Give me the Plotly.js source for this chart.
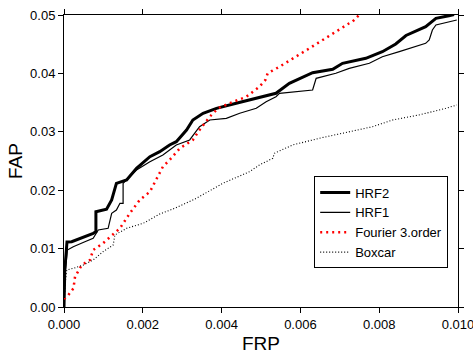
<!DOCTYPE html>
<html>
<head>
<meta charset="utf-8">
<script src="https://cdn.plot.ly/plotly-3.0.1.min.js"></script>
<style>html,body{margin:0;padding:0;background:#fff;}#chart{width:473px;height:354px;}</style>
</head>
<body>
<div id="chart"></div>
<script>
// HRF2 (thick solid)
const hrf2X = [0, 0.00002, 0.000076, 0.000195, 0.000742, 0.00081, 0.00081, 0.00108, 0.00121, 0.00133, 0.00159, 0.00184, 0.00218, 0.00243, 0.00268, 0.00285, 0.00311, 0.00327, 0.00353, 0.00387, 0.00437, 0.00471, 0.00538, 0.00572, 0.00606, 0.00631, 0.00682, 0.00707, 0.00766, 0.00808, 0.00842, 0.00868, 0.00918, 0.00944, 0.00977, 0.00990];
const hrf2Y = [0, 0.00634, 0.01113, 0.01118, 0.01262, 0.01289, 0.01632, 0.01673, 0.01832, 0.02118, 0.02175, 0.02375, 0.02574, 0.02659, 0.02774, 0.02831, 0.03031, 0.03202, 0.03317, 0.03402, 0.03488, 0.03545, 0.03659, 0.03830, 0.03943, 0.04012, 0.04070, 0.04173, 0.04258, 0.04372, 0.04503, 0.04649, 0.04800, 0.04943, 0.04988, 0.05008];
// HRF1 (thin solid)
const hrf1X = [0, 0.000025, 0.000084, 0.000235, 0.00053, 0.00074, 0.00087, 0.00112, 0.00121, 0.00133, 0.00142, 0.00150, 0.00150, 0.00184, 0.00218, 0.00251, 0.00285, 0.00319, 0.00344, 0.00370, 0.00412, 0.00446, 0.00488, 0.00513, 0.00538, 0.00547, 0.00631, 0.00640, 0.00690, 0.00724, 0.00775, 0.00808, 0.00851, 0.00918, 0.00927, 0.00935, 0.00944, 0.00977, 0.00997];
const hrf1Y = [0, 0.00548, 0.00976, 0.01033, 0.01118, 0.01176, 0.01318, 0.01348, 0.01604, 0.01661, 0.01776, 0.01776, 0.02118, 0.02346, 0.02488, 0.02603, 0.02774, 0.02860, 0.03087, 0.03202, 0.03231, 0.03317, 0.03402, 0.03515, 0.03601, 0.03659, 0.03716, 0.03916, 0.04002, 0.04087, 0.04173, 0.04286, 0.04372, 0.04515, 0.04572, 0.04743, 0.04829, 0.04875, 0.04914];
// Fourier 3.order (red dotted)
const fourX = [0, 0.00011, 0.00024, 0.00028, 0.00045, 0.00066, 0.00074, 0.00099, 0.00142, 0.00167, 0.00192, 0.00218, 0.00251, 0.00268, 0.00294, 0.00327, 0.00344, 0.00370, 0.00391, 0.00420, 0.00463, 0.00496, 0.00511, 0.00517, 0.00547, 0.00580, 0.00623, 0.00724, 0.00732, 0.00749];
const fourY = [0.00137, 0.00205, 0.00320, 0.00519, 0.00719, 0.00805, 0.00976, 0.01091, 0.01348, 0.01604, 0.01832, 0.01974, 0.02402, 0.02517, 0.02717, 0.02860, 0.03031, 0.03259, 0.03402, 0.03488, 0.03601, 0.03772, 0.03887, 0.04002, 0.04115, 0.04258, 0.04430, 0.04858, 0.04885, 0.05000];
// Boxcar (black dotted)
const boxX = [0, 0.000025, 0.00007, 0.00024, 0.00049, 0.00074, 0.00099, 0.00125, 0.00129, 0.00159, 0.00201, 0.00243, 0.00281, 0.00336, 0.00403, 0.00471, 0.00496, 0.00530, 0.00534, 0.00580, 0.00648, 0.00707, 0.00783, 0.00834, 0.00901, 0.00969, 0.00997];
const boxY = [0, 0.00377, 0.00634, 0.00663, 0.00719, 0.00805, 0.00947, 0.01062, 0.01233, 0.01348, 0.01433, 0.01592, 0.01690, 0.01861, 0.02118, 0.02317, 0.02432, 0.02546, 0.02632, 0.02774, 0.02889, 0.02974, 0.03087, 0.03202, 0.03288, 0.03402, 0.03459];

const xTicks = [0, 0.002, 0.004, 0.006, 0.008, 0.010];
const xTickText = ["0.000", "0.002", "0.004", "0.006", "0.008", "0.010"];
const yTicks = [0, 0.01, 0.02, 0.03, 0.04, 0.05];
const yTickText = ["0.00", "0.01", "0.02", "0.03", "0.04", "0.05"];

const font = "Liberation Sans, Arial, sans-serif";
const traces = [
  {x: hrf2X, y: hrf2Y, name: "HRF2", mode: "lines", line: {color: "#000", width: 3}},
  {x: hrf1X, y: hrf1Y, name: "HRF1", mode: "lines", line: {color: "#000", width: 1.2}},
  {x: fourX, y: fourY, name: "Fourier 3.order", mode: "lines", line: {color: "#ff0000", width: 2.5, dash: "2px,4px"}},
  {x: boxX, y: boxY, name: "Boxcar", mode: "lines", line: {color: "#000", width: 1.1, dash: "1px,2px"}}
];
const axisCommon = {
  showgrid: false, zeroline: false, showline: true, linecolor: "#000", linewidth: 1,
  mirror: "ticks", ticks: "outside", ticklen: 5, tickcolor: "#000", tickwidth: 1,
  ticklabeloverflow: "allow",
  tickfont: {family: font, size: 13, color: "#000"}
};
const layout = {
  width: 473, height: 354,
  margin: {l: 64, r: 15, t: 15, b: 47},
  paper_bgcolor: "#fff", plot_bgcolor: "#fff",
  showlegend: true,
  xaxis: Object.assign({}, axisCommon, {range: [0, 0.0100001], tickvals: xTicks, ticktext: xTickText,
    title: {text: "FRP", font: {family: font, size: 19, color: "#000"}, standoff: 7}}),
  yaxis: Object.assign({}, axisCommon, {range: [0, 0.05], tickvals: yTicks, ticktext: yTickText,
    title: {text: "FAP", font: {family: font, size: 19, color: "#000"}, standoff: 2}}),
  legend: {x: 0.635, y: 0.447, xanchor: "left", yanchor: "top", bgcolor: "#fff",
    bordercolor: "#000", borderwidth: 1, font: {family: font, size: 13, color: "#000"},
    tracegroupgap: 0}
};
Plotly.newPlot("chart", traces, layout, {displayModeBar: false, staticPlot: true});
</script>
</body>
</html>
